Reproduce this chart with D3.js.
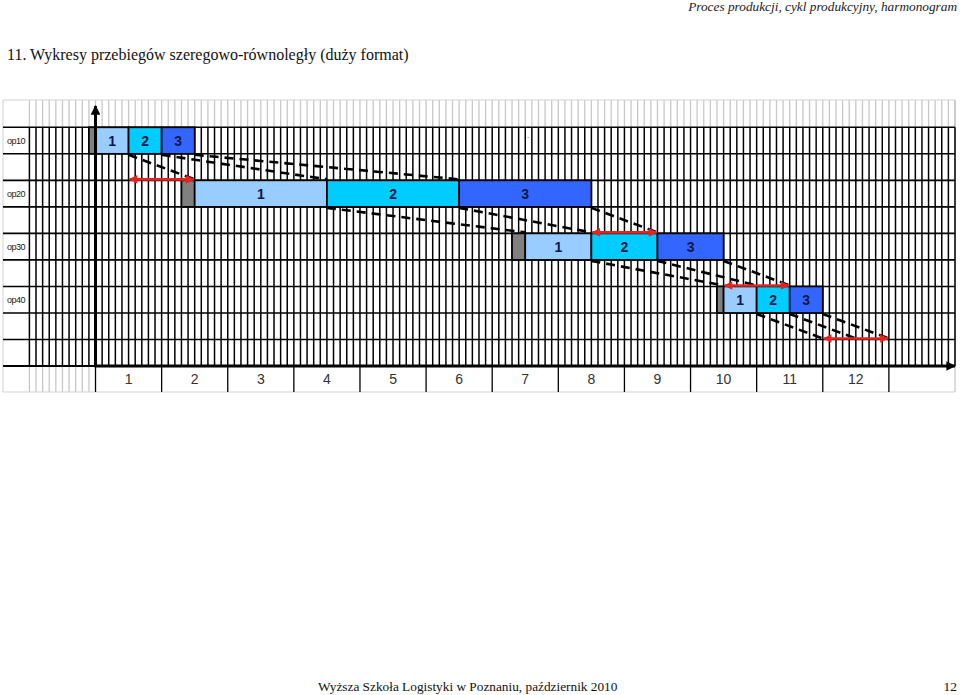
<!DOCTYPE html>
<html>
<head>
<meta charset="utf-8">
<script src="https://cdn.jsdelivr.net/npm/d3@7"></script>
<style>
  html, body { margin: 0; padding: 0; background: #fff; }
  svg { display: block; }
</style>
</head>
<body>
<svg id="chart" width="960" height="695"></svg>
<script>
// ---- data ----
const operations = ["op10", "op20", "op30", "op40"];
const setupStart = [-0.1, 1.3, 6.3, 9.4];      // start of set-up (grey)
const batchStart = [0, 1.5, 6.5, 9.5];         // start of first piece
const pieceTime = [0.5, 2, 1, 0.5];            // time per piece
const pieceLabels = ["1", "2", "3"];
const nextStart = [11, 11.5, 12];              // hand-over after op40
const arrowSpans = [[0.5, 1.5], [7.5, 8.5], [9.5, 10.5], [11, 12]];
const arrowRows = [2, 4, 6, 8];
const timeLabels = ["1","2","3","4","5","6","7","8","9","10","11","12"];
const pieceColors = ["#99CCFF", "#00CCFF", "#3366FF"];

// ---- layout ----
const svg = d3.select("#chart");
const x = d3.scaleLinear().domain([-1, 13]).range([29.4, 955]);
const y = d3.scaleLinear().domain([0, 9]).range([127.3, 366]);
const headerTop = 100, labelBottom = 392, leftEdge = 3;

// texts
svg.append("text").attr("x", 957).attr("y", 11).attr("text-anchor", "end")
  .attr("font-family", "Liberation Serif").attr("font-style", "italic")
  .attr("font-size", 13.3).attr("fill", "#222")
  .text("Proces produkcji, cykl produkcyjny, harmonogram");
svg.append("text").attr("x", 7).attr("y", 60)
  .attr("font-family", "Liberation Serif").attr("font-size", 16).attr("fill", "#111")
  .text("11. Wykresy przebiegów szeregowo-równoległy (duży format)");
svg.append("text").attr("x", 318).attr("y", 691)
  .attr("font-family", "Liberation Serif").attr("font-size", 13.3).attr("fill", "#111")
  .text("Wyższa Szkoła Logistyki w Poznaniu, październik 2010");
svg.append("text").attr("x", 957).attr("y", 691).attr("text-anchor", "end")
  .attr("font-family", "Liberation Serif").attr("font-size", 13.5).attr("fill", "#111")
  .text("12");

const g = svg.append("g");

// header + label-row light grid
const subTicks = d3.range(0, 141).map(i => -1 + i / 10);
g.append("g").selectAll("line").data(subTicks).join("line")
  .attr("x1", d => x(d)).attr("x2", d => x(d))
  .attr("y1", headerTop).attr("y2", y(0))
  .attr("stroke", "#c8c8c8").attr("stroke-width", 1.3);
g.append("g").selectAll("line").data(subTicks.filter(d => d < 0)).join("line")
  .attr("x1", d => x(d)).attr("x2", d => x(d))
  .attr("y1", y(9)).attr("y2", labelBottom)
  .attr("stroke", "#c8c8c8").attr("stroke-width", 1.3);
// outer light borders
g.append("line").attr("x1", leftEdge).attr("x2", x(13)).attr("y1", headerTop).attr("y2", headerTop)
  .attr("stroke", "#d0d0d0");
g.append("line").attr("x1", leftEdge).attr("x2", x(13)).attr("y1", labelBottom).attr("y2", labelBottom)
  .attr("stroke", "#d0d0d0");
g.append("line").attr("x1", leftEdge).attr("x2", leftEdge).attr("y1", headerTop).attr("y2", labelBottom)
  .attr("stroke", "#d0d0d0");
g.append("line").attr("x1", x(13)).attr("x2", x(13)).attr("y1", headerTop).attr("y2", labelBottom)
  .attr("stroke", "#bbb");

// main dark grid
g.append("g").selectAll("line").data(subTicks).join("line")
  .attr("x1", d => x(d)).attr("x2", d => x(d))
  .attr("y1", y(0)).attr("y2", y(9))
  .attr("stroke", "#000").attr("stroke-width", 1.5);
g.append("g").selectAll("line").data(d3.range(0, 9)).join("line")
  .attr("x1", leftEdge).attr("x2", x(13))
  .attr("y1", d => y(d)).attr("y2", d => y(d))
  .attr("stroke", "#000").attr("stroke-width", 1.6);
g.append("line").attr("x1", leftEdge).attr("x2", x(0)).attr("y1", y(9)).attr("y2", y(9))
  .attr("stroke", "#000").attr("stroke-width", 2);

// time unit dividers in label row
g.append("g").selectAll("line").data(d3.range(0, 13)).join("line")
  .attr("x1", d => x(d)).attr("x2", d => x(d))
  .attr("y1", y(9)).attr("y2", labelBottom)
  .attr("stroke", "#000").attr("stroke-width", 1.3);

// time axis labels via band scale
const band = d3.scaleBand().domain(timeLabels).range([x(0), x(12)]);
const axis = g.append("g").attr("transform", `translate(0,${y(9) + 2})`)
  .call(d3.axisBottom(band).tickSize(0).tickPadding(6));
axis.select(".domain").remove();
axis.selectAll("text").attr("font-family", "Liberation Sans").attr("font-size", 14)
  .attr("fill", "#333");

// row labels
g.append("g").selectAll("text").data(operations).join("text")
  .attr("x", 7).attr("y", (d, i) => (y(2 * i) + y(2 * i + 1)) / 2 + 3)
  .attr("font-family", "Liberation Sans").attr("font-size", 9)
  .attr("letter-spacing", -0.5).attr("fill", "#222")
  .text(d => d);

// small stray mark
g.append("text").attr("x", 527).attr("y", 139).attr("font-size", 7)
  .attr("fill", "#777").attr("font-family", "Liberation Sans").text("-");

// dashed connectors
const connectors = [];
operations.forEach((op, i) => {
  pieceLabels.forEach((p, k) => {
    const t0 = batchStart[i] + (k + 1) * pieceTime[i];
    const t1 = i < operations.length - 1 ? batchStart[i + 1] + k * pieceTime[i + 1] : nextStart[k];
    connectors.push({ x1: x(t0), y1: y(2 * i + 1), x2: x(t1), y2: y(2 * i + 2) });
  });
});
g.append("g").selectAll("line").data(connectors).join("line")
  .attr("x1", d => d.x1).attr("y1", d => d.y1 + 1)
  .attr("x2", d => d.x2).attr("y2", d => d.y2 - 1)
  .attr("stroke", "#000").attr("stroke-width", 2.6).attr("stroke-dasharray", "9,6");

// bars
const barsG = g.append("g");
operations.forEach((op, i) => {
  const top = y(2 * i), h = y(2 * i + 1) - y(2 * i);
  barsG.append("rect").attr("x", x(setupStart[i])).attr("y", top)
    .attr("width", x(batchStart[i]) - x(setupStart[i])).attr("height", h)
    .attr("fill", "#808080").attr("stroke", "#000").attr("stroke-width", 1.7);
  const pieces = pieceLabels.map((p, k) => ({ p, k, t: batchStart[i] + k * pieceTime[i] }));
  barsG.selectAll(null).data(pieces).join("rect")
    .attr("x", d => x(d.t)).attr("y", top)
    .attr("width", x(pieceTime[i]) - x(0)).attr("height", h)
    .attr("fill", d => pieceColors[d.k]).attr("stroke", "#000").attr("stroke-width", 1.7);
  barsG.selectAll(null).data(pieces).join("text")
    .attr("x", d => x(d.t + pieceTime[i] / 2)).attr("y", top + h / 2 + 5)
    .attr("text-anchor", "middle").attr("font-family", "Liberation Sans")
    .attr("font-weight", "bold").attr("font-size", 14).attr("fill", "#0b1845")
    .text(d => d.p);
});

// axes arrows
const defs = svg.append("defs");
defs.append("marker").attr("id", "blk").attr("viewBox", "0 0 10 10").attr("refX", 9).attr("refY", 5)
  .attr("markerWidth", 3.6).attr("markerHeight", 3.2).attr("orient", "auto")
  .attr("markerUnits", "strokeWidth")
  .append("path").attr("d", "M0,0 L10,5 L0,10 Z").attr("fill", "#000");
defs.append("marker").attr("id", "red").attr("viewBox", "0 0 10 10").attr("refX", 9).attr("refY", 5)
  .attr("markerWidth", 4).attr("markerHeight", 3.3).attr("orient", "auto-start-reverse")
  .attr("markerUnits", "strokeWidth")
  .append("path").attr("d", "M0,0 L10,5 L0,10 Z").attr("fill", "#E52421");

g.append("line").attr("x1", x(0)).attr("x2", x(0)).attr("y1", y(9) + 1).attr("y2", 106)
  .attr("stroke", "#000").attr("stroke-width", 3).attr("marker-end", "url(#blk)");
g.append("line").attr("x1", x(0) - 1).attr("x2", x(13)).attr("y1", y(9)).attr("y2", y(9))
  .attr("stroke", "#000").attr("stroke-width", 3).attr("marker-end", "url(#blk)");

// red double arrows
g.append("g").selectAll("line").data(arrowSpans).join("line")
  .attr("x1", d => x(d[0]) + 1).attr("x2", d => x(d[1]) - 1)
  .attr("y1", (d, i) => y(arrowRows[i]) - 1).attr("y2", (d, i) => y(arrowRows[i]) - 1)
  .attr("stroke", "#E52421").attr("stroke-width", 2.6)
  .attr("marker-start", "url(#red)").attr("marker-end", "url(#red)");
</script>
</body>
</html>
